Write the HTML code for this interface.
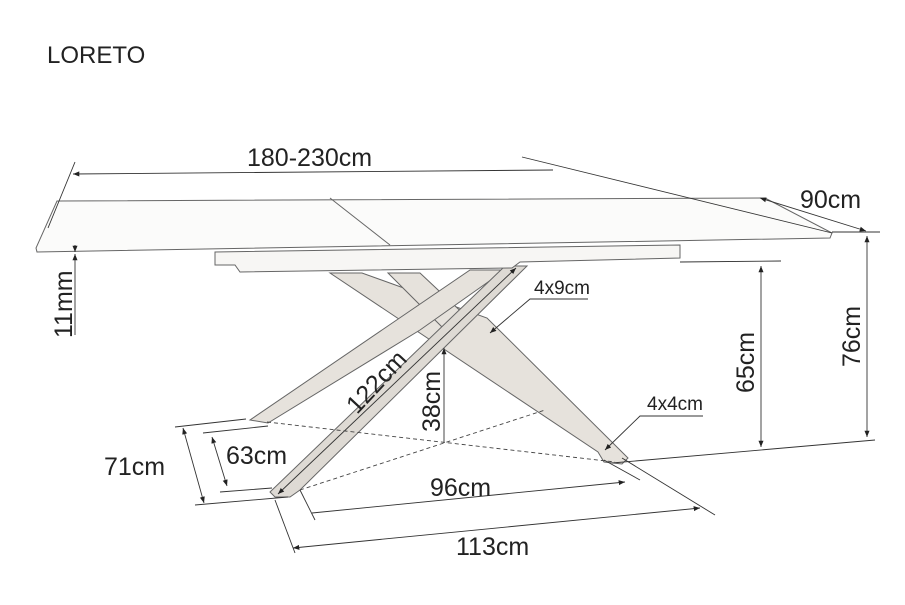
<!DOCTYPE html>
<html><head><style>
html,body{margin:0;padding:0;background:#fff;}
svg{display:block;font-family:"Liberation Sans",sans-serif;}
</style></head><body>
<svg width="905" height="605" viewBox="0 0 905 605" xmlns="http://www.w3.org/2000/svg">
<defs>
<marker id="a" viewBox="0 0 10 10" refX="10" refY="5" markerWidth="7" markerHeight="7" orient="auto-start-reverse"><path d="M0,1 L10,5 L0,9 z" fill="#222"/></marker>
</defs>
<rect width="905" height="605" fill="#fff"/>
<text x="47" y="63" font-size="24" fill="#222">LORETO</text>

<g stroke="#666" stroke-width="1" fill="#e6e2dc">
<!-- right leg (back) -->
<polygon points="330,273 362,273 487,318 628,458 622,464 604,462 598,452"/>
<!-- 4th leg stub -->
<polygon points="388,273 420,273 470,320 445,330"/>
<!-- back-left leg -->
<polygon points="470,270 505,270 420,330 268,423 250,420"/>
<!-- front leg -->
<polygon points="505,266 527,266 300,490 290,497 275,497 270,492" fill="#dedad4"/>
<!-- apron -->
<polygon points="215,252 680,245 680,258 520,262 512,268 240,272 235,265 215,265" fill="#f7f6f4"/>
<!-- tabletop -->
<polygon points="57,201 765,198 832,233 830,238 37,252 36,248" fill="#fbfbfa"/>
<line x1="330" y1="198" x2="390" y2="245"/>
</g>

<g stroke="#333" stroke-width="0.9" fill="none">
<line x1="48" y1="228" x2="75" y2="162"/>
<line x1="73" y1="174" x2="553" y2="170" marker-start="url(#a)"/>
<line x1="522" y1="157" x2="832" y2="233"/>
<line x1="760" y1="198" x2="866" y2="231" marker-start="url(#a)" marker-end="url(#a)"/>
<line x1="832" y1="232" x2="880" y2="232"/>
<line x1="867" y1="236" x2="867" y2="437" marker-start="url(#a)" marker-end="url(#a)"/>
<line x1="612" y1="463" x2="875" y2="440"/>
<line x1="680" y1="262" x2="781" y2="261"/>
<line x1="761" y1="266" x2="761" y2="447" marker-start="url(#a)" marker-end="url(#a)"/>
<line x1="75" y1="245" x2="75" y2="252" marker-end="url(#a)"/>
<line x1="75" y1="335" x2="75" y2="254" marker-end="url(#a)"/>
<polyline points="588,299 530,299 490,333" marker-end="url(#a)"/>
<polyline points="703,416 640,416 605,450" marker-end="url(#a)"/>
<line x1="444" y1="348" x2="444" y2="443" marker-start="url(#a)"/>
<line x1="516" y1="268" x2="278" y2="494" marker-start="url(#a)" marker-end="url(#a)"/>
<line x1="175" y1="427" x2="246" y2="419"/>
<line x1="203" y1="433" x2="268" y2="426"/>
<line x1="220" y1="492" x2="272" y2="488"/>
<line x1="195" y1="505" x2="288" y2="497"/>
<line x1="212" y1="437" x2="227" y2="486" marker-start="url(#a)" marker-end="url(#a)"/>
<line x1="183" y1="428" x2="204" y2="503" marker-start="url(#a)" marker-end="url(#a)"/>
<line x1="300" y1="490" x2="315" y2="520"/>
<line x1="312" y1="513" x2="625" y2="482" marker-end="url(#a)"/>
<line x1="604" y1="460" x2="640" y2="480"/>
<line x1="275" y1="500" x2="295" y2="553"/>
<line x1="293" y1="548" x2="700" y2="508" marker-start="url(#a)" marker-end="url(#a)"/>
<line x1="622" y1="458" x2="715" y2="515"/>
</g>
<g stroke="#444" stroke-width="0.9" stroke-dasharray="4,3" fill="none">
<line x1="267" y1="422" x2="615" y2="462"/>
<line x1="300" y1="490" x2="545" y2="410"/>
</g>

<g font-size="25" fill="#222">
<text x="247" y="166">180-230cm</text>
<text x="800" y="208">90cm</text>
<text x="534" y="294" font-size="19">4x9cm</text>
<text x="647" y="410" font-size="19">4x4cm</text>
<text x="226" y="464">63cm</text>
<text x="104" y="475">71cm</text>
<text x="430" y="496">96cm</text>
<text x="456" y="555">113cm</text>
<text transform="translate(72,338) rotate(-90)">11mm</text>
<text transform="translate(440,432) rotate(-90)">38cm</text>
<text transform="translate(754,393) rotate(-90)">65cm</text>
<text transform="translate(860,367) rotate(-90)">76cm</text>
<text transform="translate(357,415) rotate(-47)">122cm</text>
</g>
</svg>
</body></html>
